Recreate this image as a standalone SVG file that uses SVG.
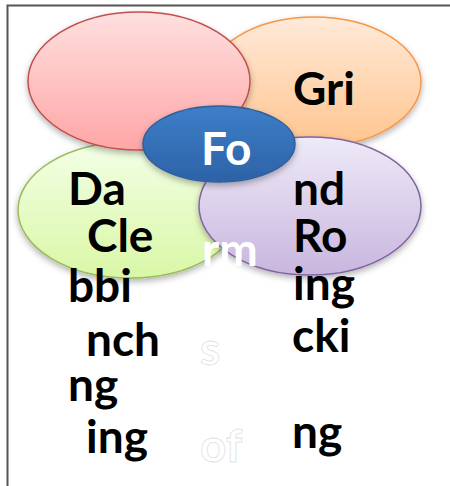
<svg xmlns="http://www.w3.org/2000/svg" width="450" height="486" viewBox="0 0 450 486">
  <style>
    .lbl { font-family: Lato, "Open Sans", sans-serif; font-weight: bold; font-size: 46px; fill: #000; }
    .wht { font-family: Lato, "Open Sans", sans-serif; font-weight: bold; font-size: 46px; fill: #fff; }
    .ghost { font-family: Lato, "Open Sans", sans-serif; font-weight: bold; font-size: 46px; fill: #fff; stroke: #e2e2e2; stroke-width: 0.8; }
    .shape { filter: url(#shadow); stroke-width: 1.5; }
  </style>
  <defs>
    <filter id="shadow" x="-20%" y="-20%" width="140%" height="150%">
      <feDropShadow dx="0" dy="3" stdDeviation="3" flood-color="#000" flood-opacity="0.3"/>
    </filter>
    <linearGradient id="gRed" x1="0" y1="0" x2="0" y2="1">
      <stop offset="0" stop-color="#ffdfdf"/>
      <stop offset="1" stop-color="#ffa6a6"/>
    </linearGradient>
    <linearGradient id="gOrange" x1="0" y1="0" x2="0" y2="1">
      <stop offset="0" stop-color="#ffead9"/>
      <stop offset="1" stop-color="#ffc48e"/>
    </linearGradient>
    <linearGradient id="gGreen" x1="0" y1="0" x2="0" y2="1">
      <stop offset="0" stop-color="#f3ffe6"/>
      <stop offset="1" stop-color="#d9f7a6"/>
    </linearGradient>
    <linearGradient id="gPurple" x1="0" y1="0" x2="0" y2="1">
      <stop offset="0" stop-color="#eeeaf7"/>
      <stop offset="1" stop-color="#c9b6df"/>
    </linearGradient>
    <linearGradient id="gBlue" x1="0" y1="0" x2="0" y2="1">
      <stop offset="0" stop-color="#3d7fc9"/>
      <stop offset="1" stop-color="#2d62a6"/>
    </linearGradient>
  </defs>

  <rect width="450" height="486" fill="#fff"/>
  <!-- frame -->
  <path d="M7.5 486 V5.5 H450" fill="none" stroke="#555" stroke-width="2"/>

  <g id="node-orange">
    <ellipse class="shape" cx="314" cy="82" rx="107" ry="65" fill="url(#gOrange)" stroke="#f79646"/>
  </g>
  <g id="node-green">
    <ellipse class="shape" cx="130" cy="210" rx="112" ry="68" fill="url(#gGreen)" stroke="#9bbb59"/>
  </g>
  <g id="node-red">
    <ellipse class="shape" cx="139" cy="81" rx="111" ry="69" fill="url(#gRed)" stroke="#c0504d"/>
  </g>
  <g id="node-purple">
    <ellipse class="shape" cx="310" cy="206" rx="111" ry="69" fill="url(#gPurple)" stroke="#8064a2"/>
  </g>
  <g id="node-center">
    <ellipse class="shape" cx="219" cy="144" rx="76" ry="38" fill="url(#gBlue)" stroke="#2f5f9e" stroke-width="1"/>
    <text class="wht" x="201" y="165">Fo</text>
  </g>

  <g id="labels">
    <text class="lbl" x="293" y="105">Gri</text>

    <text class="lbl" x="68" y="205">Da</text>
    <text class="lbl" x="87" y="252">Cle</text>
    <text class="lbl" x="68" y="302">bbi</text>
    <text class="lbl" x="86" y="356">nch</text>
    <text class="lbl" x="68" y="401">ng</text>
    <text class="lbl" x="86" y="453">ing</text>

    <text class="lbl" x="293" y="205">nd</text>
    <text class="lbl" x="293" y="252">Ro</text>
    <text class="lbl" x="293" y="300">ing</text>
    <text class="lbl" x="292" y="352">cki</text>
    <text class="lbl" x="292" y="448">ng</text>

    <text class="wht" x="202" y="266">rm</text>
    <text class="ghost" x="200" y="365">s</text>
    <text class="ghost" x="200" y="462">of</text>
  </g>
</svg>
